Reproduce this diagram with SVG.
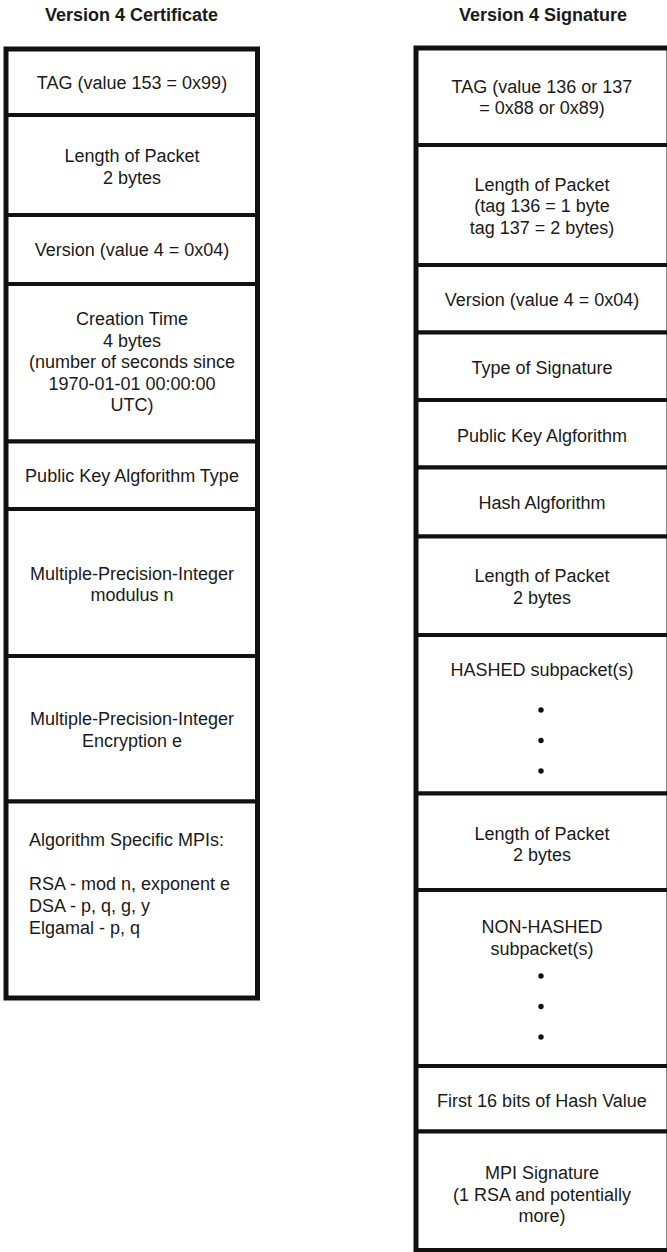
<svg xmlns="http://www.w3.org/2000/svg" width="667" height="1252" viewBox="0 0 667 1252">
  <style>
    .cell { fill: #ffffff; stroke: #111111; stroke-width: 4; }
    .frame { fill: none; stroke: #111111; stroke-width: 5; }
    .title { font-family: "Liberation Sans", Arial, sans-serif; font-size: 18px; font-weight: bold; fill: #1a1a1a; text-anchor: middle; }
    .lbl { font-family: "Liberation Sans", Arial, sans-serif; font-size: 18px; fill: #1a1a1a; text-anchor: middle; }
    .lbl-left { font-family: "Liberation Sans", Arial, sans-serif; font-size: 18px; fill: #1a1a1a; }
    .dot { fill: #111111; }
  </style>
  <rect width="667" height="1252" fill="#ffffff"/>

  <!-- Version 4 certificate packet layout -->
  <g id="certificate">
    <text class="title" x="131.5" y="20.5">Version 4 Certificate</text>
    <g id="cert-tag">
      <rect class="cell" x="6" y="49" width="251.5" height="66"/>
      <text class="lbl" x="132" y="89">TAG (value 153 = 0x99)</text>
    </g>
    <g id="cert-length">
      <rect class="cell" x="6" y="115" width="251.5" height="100"/>
      <text class="lbl" x="132" y="162">Length of Packet</text>
      <text class="lbl" x="132" y="184">2 bytes</text>
    </g>
    <g id="cert-version">
      <rect class="cell" x="6" y="215" width="251.5" height="69"/>
      <text class="lbl" x="132" y="256">Version (value 4 = 0x04)</text>
    </g>
    <g id="cert-creation-time">
      <rect class="cell" x="6" y="284" width="251.5" height="157.5"/>
      <text class="lbl" x="132" y="325">Creation Time</text>
      <text class="lbl" x="132" y="346.5">4 bytes</text>
      <text class="lbl" x="132" y="368">(number of seconds since</text>
      <text class="lbl" x="132" y="389.5">1970-01-01 00:00:00</text>
      <text class="lbl" x="132" y="411">UTC)</text>
    </g>
    <g id="cert-pk-algorithm">
      <rect class="cell" x="6" y="441.5" width="251.5" height="67.5"/>
      <text class="lbl" x="132" y="482">Public Key Algforithm Type</text>
    </g>
    <g id="cert-modulus">
      <rect class="cell" x="6" y="509" width="251.5" height="147"/>
      <text class="lbl" x="132" y="579.5">Multiple-Precision-Integer</text>
      <text class="lbl" x="132" y="601">modulus n</text>
    </g>
    <g id="cert-exponent">
      <rect class="cell" x="6" y="656" width="251.5" height="145.5"/>
      <text class="lbl" x="132" y="725">Multiple-Precision-Integer</text>
      <text class="lbl" x="132" y="746.5">Encryption e</text>
    </g>
    <g id="cert-mpis">
      <rect class="cell" x="6" y="801.5" width="251.5" height="196.5"/>
      <text class="lbl-left" x="29" y="846">Algorithm Specific MPIs:</text>
      <text class="lbl-left" x="29" y="889.5">RSA - mod n, exponent e</text>
      <text class="lbl-left" x="29" y="911.5">DSA - p, q, g, y</text>
      <text class="lbl-left" x="29" y="933.5">Elgamal - p, q</text>
    </g>
    <rect class="frame" x="6" y="49" width="251.5" height="949"/>
  </g>

  <!-- Version 4 signature packet layout -->
  <g id="signature">
    <text class="title" x="543" y="20.5">Version 4 Signature</text>
    <g id="sig-tag">
      <rect class="cell" x="416" y="48" width="253" height="97"/>
      <text class="lbl" x="542" y="92.5">TAG (value 136 or 137</text>
      <text class="lbl" x="542" y="114">= 0x88 or 0x89)</text>
    </g>
    <g id="sig-length">
      <rect class="cell" x="416" y="145" width="253" height="120"/>
      <text class="lbl" x="542" y="190.5">Length of Packet</text>
      <text class="lbl" x="542" y="212">(tag 136 = 1 byte</text>
      <text class="lbl" x="542" y="233.5">tag 137 = 2 bytes)</text>
    </g>
    <g id="sig-version">
      <rect class="cell" x="416" y="265" width="253" height="67.5"/>
      <text class="lbl" x="542" y="305.5">Version (value 4 = 0x04)</text>
    </g>
    <g id="sig-type">
      <rect class="cell" x="416" y="332.5" width="253" height="67.5"/>
      <text class="lbl" x="542" y="373.5">Type of Signature</text>
    </g>
    <g id="sig-pk-algorithm">
      <rect class="cell" x="416" y="400" width="253" height="67.5"/>
      <text class="lbl" x="542" y="441.5">Public Key Algforithm</text>
    </g>
    <g id="sig-hash-algorithm">
      <rect class="cell" x="416" y="467.5" width="253" height="69"/>
      <text class="lbl" x="542" y="509">Hash Algforithm</text>
    </g>
    <g id="sig-hashed-length">
      <rect class="cell" x="416" y="536.5" width="253" height="98.5"/>
      <text class="lbl" x="542" y="581.5">Length of Packet</text>
      <text class="lbl" x="542" y="603.5">2 bytes</text>
    </g>
    <g id="sig-hashed">
      <rect class="cell" x="416" y="635" width="253" height="158.5"/>
      <text class="lbl" x="542" y="676">HASHED subpacket(s)</text>
      <circle class="dot" cx="541" cy="710" r="2.7"/>
      <circle class="dot" cx="541" cy="740.5" r="2.7"/>
      <circle class="dot" cx="541" cy="771" r="2.7"/>
    </g>
    <g id="sig-unhashed-length">
      <rect class="cell" x="416" y="793.5" width="253" height="96.5"/>
      <text class="lbl" x="542" y="839.5">Length of Packet</text>
      <text class="lbl" x="542" y="861">2 bytes</text>
    </g>
    <g id="sig-unhashed">
      <rect class="cell" x="416" y="890" width="253" height="176"/>
      <text class="lbl" x="542" y="933">NON-HASHED</text>
      <text class="lbl" x="542" y="954.5">subpacket(s)</text>
      <circle class="dot" cx="541" cy="976" r="2.7"/>
      <circle class="dot" cx="541" cy="1006.5" r="2.7"/>
      <circle class="dot" cx="541" cy="1037" r="2.7"/>
    </g>
    <g id="sig-hash16">
      <rect class="cell" x="416" y="1066" width="253" height="65.5"/>
      <text class="lbl" x="542" y="1106.5">First 16 bits of Hash Value</text>
    </g>
    <g id="sig-mpi">
      <rect class="cell" x="416" y="1131.5" width="253" height="119"/>
      <text class="lbl" x="542" y="1179">MPI Signature</text>
      <text class="lbl" x="542" y="1200.5">(1 RSA and potentially</text>
      <text class="lbl" x="542" y="1222">more)</text>
    </g>
    <rect class="frame" x="416" y="48" width="253" height="1202.5"/>
  </g>
</svg>
